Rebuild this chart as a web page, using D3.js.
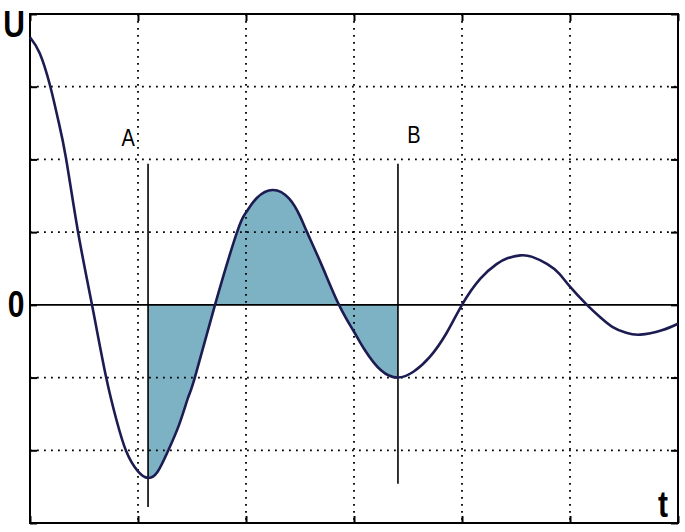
<!DOCTYPE html>
<html>
<head>
<meta charset="utf-8">
<script src="https://cdn.jsdelivr.net/npm/d3@7"></script>
<style>
  html, body { margin: 0; padding: 0; background: #fff; }
  svg { display: block; }
</style>
</head>
<body>
<svg id="chart" width="685" height="532"></svg>
<script>
// ---- data ----
const tValues = [0.00, 0.09, 0.185, 0.26, 0.333, 0.444, 0.574, 0.704, 0.80, 0.89, 1.00, 1.093,
  1.18, 1.278, 1.38, 1.463, 1.528, 1.713, 1.917, 2.00, 2.10, 2.25, 2.40, 2.50, 2.565, 2.70, 2.861,
  3.00, 3.10, 3.25, 3.407, 3.55, 3.70, 3.86, 4.00, 4.17, 4.32, 4.42, 4.54, 4.65, 4.79, 4.90, 5.00, 5.157,
  5.28, 5.40, 5.52, 5.65, 5.85, 6.00];
const uValues = [3.68, 3.46, 3.02, 2.55, 2.02, 1.01, 0.00, -0.99, -1.58, -2.01, -2.29, -2.38,
  -2.30, -2.01, -1.65, -1.28, -0.99, 0.00, 1.00, 1.27, 1.47, 1.58, 1.46, 1.22, 1.00, 0.55, 0.00,
  -0.37, -0.62, -0.90, -1.00, -0.92, -0.72, -0.38, 0.00, 0.36, 0.56, 0.64, 0.68, 0.66, 0.56, 0.43, 0.25, 0.00,
  -0.17, -0.31, -0.385, -0.41, -0.35, -0.26];
const xTicks = [0, 1, 2, 3, 4, 5, 6];
const yTicks = [-3, -2, -1, 0, 1, 2, 3, 4];
const markerNames = ["A", "B"];
const markerT = [1.093, 3.407];
const markerTop = [1.94, 1.94];
const markerBottom = [-2.78, -2.46];
const axisLabels = { y: "U", x: "t", zero: "0" };

// ---- drawing ----
const svg = d3.select("#chart");
const pLeft = 30, pRight = 678, pTop = 14, pBottom = 523;
const x = d3.scaleLinear().domain([0, 6]).range([pLeft, pRight]);
const y = d3.scaleLinear().domain([-3, 4]).range([pBottom, pTop]);

const pts = tValues.map((t, i) => ({ t, u: uValues[i] }));
const curveType = d3.curveNatural;

// fill between A and B
const fillPts = pts.filter(d => d.t >= markerT[0] - 1e-9 && d.t <= markerT[1] + 1e-9);
const area = d3.area().x(d => x(d.t)).y0(y(0)).y1(d => y(d.u)).curve(curveType);
svg.append("path").datum(fillPts).attr("d", area).attr("fill", "#7db2c4");

// dotted grid
const gridX = xTicks.filter(v => v > 0 && v < 6);
const gridY = yTicks.filter(v => v !== 0 && v > -3 && v < 4);
svg.append("g").selectAll("line").data(gridX).join("line")
  .attr("x1", d => x(d)).attr("x2", d => x(d)).attr("y1", pTop).attr("y2", pBottom)
  .attr("stroke", "#000").attr("stroke-width", 1.8).attr("stroke-dasharray", "1.8,5.2");
svg.append("g").selectAll("line").data(gridY).join("line")
  .attr("x1", pLeft).attr("x2", pRight).attr("y1", d => y(d)).attr("y2", d => y(d))
  .attr("stroke", "#000").attr("stroke-width", 1.8).attr("stroke-dasharray", "1.8,5.2");

// zero line
svg.append("line").attr("x1", pLeft).attr("x2", pRight).attr("y1", y(0)).attr("y2", y(0))
  .attr("stroke", "#000").attr("stroke-width", 1.6);

// ticks on all four sides (inward)
const tl = 7;
svg.append("g").attr("transform", `translate(0,${pBottom})`)
  .call(d3.axisBottom(x).tickValues(xTicks).tickSize(-tl).tickFormat(""));
svg.append("g").attr("transform", `translate(0,${pTop})`)
  .call(d3.axisTop(x).tickValues(xTicks).tickSize(-tl).tickFormat(""));
svg.append("g").attr("transform", `translate(${pLeft},0)`)
  .call(d3.axisLeft(y).tickValues(yTicks).tickSize(-tl).tickFormat(""));
svg.append("g").attr("transform", `translate(${pRight},0)`)
  .call(d3.axisRight(y).tickValues(yTicks).tickSize(-tl).tickFormat(""));
svg.selectAll(".domain").remove();
svg.selectAll(".tick line").attr("stroke", "#000").attr("stroke-width", 2);

// frame
svg.append("rect").attr("x", pLeft).attr("y", pTop).attr("width", pRight - pLeft).attr("height", pBottom - pTop)
  .attr("fill", "none").attr("stroke", "#000").attr("stroke-width", 2);

// marker lines
svg.append("g").selectAll("line").data(markerT).join("line")
  .attr("x1", d => x(d)).attr("x2", d => x(d))
  .attr("y1", (d, i) => y(markerTop[i])).attr("y2", (d, i) => y(markerBottom[i]))
  .attr("stroke", "#000").attr("stroke-width", 1.6);

// curve
const line = d3.line().x(d => x(d.t)).y(d => y(d.u)).curve(curveType);
svg.append("path").datum(pts).attr("d", line).attr("fill", "none")
  .attr("stroke", "#1c1c52").attr("stroke-width", 2.6).attr("stroke-linejoin", "round");

// marker labels
svg.append("g").selectAll("text").data(markerNames).join("text")
  .attr("transform", (d, i) => `translate(${x(markerT[i]) + (i === 0 ? -20 : 16)},${y(markerTop[i]) - (i === 0 ? 18 : 21)}) scale(1,1.2)`)
  .attr("text-anchor", "middle")
  .attr("font-family", "Liberation Sans, Arial, sans-serif")
  .attr("font-size", 20)
  .attr("fill", "#000")
  .text(d => d);

// axis letters
function bigText(txt, tx, ty, anchor) {
  svg.append("text")
    .attr("transform", `translate(${tx},${ty}) scale(1,1.25)`)
    .attr("text-anchor", anchor)
    .attr("font-family", "Liberation Sans, Arial, sans-serif")
    .attr("font-weight", "bold").attr("font-size", 30)
    .attr("fill", "#000").text(txt);
}
bigText(axisLabels.y, 14, 37, "middle");
bigText(axisLabels.zero, 16, y(0) + 12, "middle");
bigText(axisLabels.x, 663, 517, "middle");
</script>
</body>
</html>
